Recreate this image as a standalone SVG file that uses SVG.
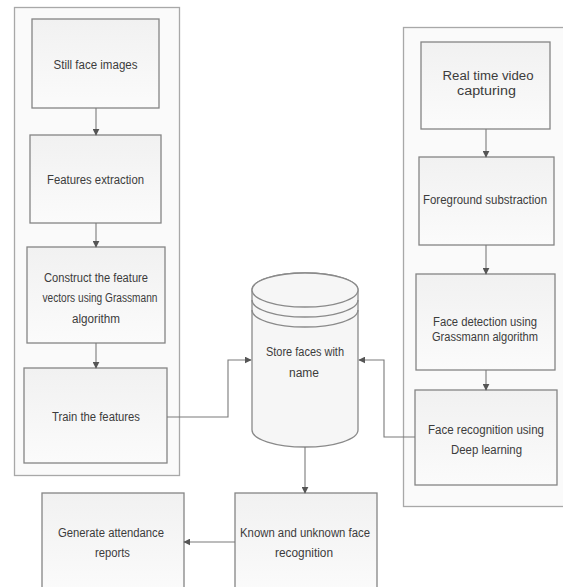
<svg xmlns="http://www.w3.org/2000/svg" width="563" height="587" viewBox="0 0 563 587">
<style>
.cont{fill:#fafafa;stroke:#a8a8a8;stroke-width:1.3}
.box{fill:url(#g);stroke:#858585;stroke-width:1.3}
.t{font-family:"Liberation Sans",Arial,sans-serif;font-size:12px;fill:#3c3c3c;text-anchor:middle}
.c{fill:none;stroke:#7a7a7a;stroke-width:1.1}
.cyl{fill:#f6f6f6;stroke:#8a8a8a;stroke-width:1.3}
.arc{fill:none;stroke:#8a8a8a;stroke-width:1.3}
</style>
<defs>
<linearGradient id="g" x1="0" y1="0" x2="0" y2="1">
<stop offset="0" stop-color="#f1f1f1"/>
<stop offset="1" stop-color="#fbfbfb"/>
</linearGradient>
<marker id="a" viewBox="0 0 10 10" refX="9" refY="5" markerWidth="7" markerHeight="7" orient="auto" markerUnits="userSpaceOnUse">
<path d="M0,0 L10,5 L0,10 z" fill="#555"/>
</marker>
</defs>
<rect width="563" height="587" fill="#fff"/>
<g id="left-container"><rect class="cont" x="14.5" y="7.5" width="165" height="468"/></g>
<g id="right-container"><rect class="cont" x="403.5" y="27.5" width="170" height="479"/></g>

<g id="still-face-images"><rect class="box" x="32" y="19" width="127" height="89"/>
<text class="t" x="95.5" y="69" textLength="84" lengthAdjust="spacingAndGlyphs">Still face images</text></g>
<g id="features-extraction"><rect class="box" x="30" y="135" width="131" height="88"/>
<text class="t" x="95.5" y="184" textLength="97" lengthAdjust="spacingAndGlyphs">Features extraction</text></g>
<g id="construct-vectors"><rect class="box" x="27" y="247" width="138" height="96"/>
<text class="t" x="96" y="282" textLength="104" lengthAdjust="spacingAndGlyphs">Construct the feature</text>
<text class="t" x="100" y="302" textLength="115" lengthAdjust="spacingAndGlyphs">vectors using Grassmann</text>
<text class="t" x="96" y="323" textLength="48" lengthAdjust="spacingAndGlyphs">algorithm</text></g>
<g id="train-features"><rect class="box" x="24" y="368" width="143" height="95"/>
<text class="t" x="96" y="421" textLength="88" lengthAdjust="spacingAndGlyphs">Train the features</text></g>

<g id="real-time-video"><rect class="box" x="421" y="42" width="129" height="87"/>
<text class="t" x="488" y="80" textLength="91" lengthAdjust="spacingAndGlyphs">Real time video</text>
<text class="t" x="486.5" y="95" textLength="59" lengthAdjust="spacingAndGlyphs">capturing</text></g>
<g id="foreground-substraction"><rect class="box" x="419" y="157" width="135" height="88"/>
<text class="t" x="485" y="204" textLength="124" lengthAdjust="spacingAndGlyphs">Foreground substraction</text></g>
<g id="face-detection"><rect class="box" x="416" y="274" width="139" height="96"/>
<text class="t" x="485" y="326" textLength="104" lengthAdjust="spacingAndGlyphs">Face detection using</text>
<text class="t" x="485" y="341" textLength="106" lengthAdjust="spacingAndGlyphs">Grassmann algorithm</text></g>
<g id="face-recognition"><rect class="box" x="415" y="390" width="142" height="95"/>
<text class="t" x="486" y="434" textLength="116" lengthAdjust="spacingAndGlyphs">Face recognition using</text>
<text class="t" x="486.5" y="454" textLength="71" lengthAdjust="spacingAndGlyphs">Deep learning</text></g>

<g id="store-faces">
<path class="cyl" d="M252,290 L252,430 A53,17 0 0 0 358,430 L358,290 A53,17 0 0 0 252,290 Z"/>
<ellipse class="cyl" cx="305" cy="290" rx="53" ry="17"/>
<path class="arc" d="M252,300 A53,17 0 0 0 358,300"/>
<path class="arc" d="M252,310 A53,17 0 0 0 358,310"/>
<text class="t" x="305" y="356" textLength="78" lengthAdjust="spacingAndGlyphs">Store faces with</text>
<text class="t" x="304" y="377" textLength="30" lengthAdjust="spacingAndGlyphs">name</text></g>

<g id="known-unknown"><rect class="box" x="235" y="493" width="142" height="100"/>
<text class="t" x="305" y="537" textLength="130" lengthAdjust="spacingAndGlyphs">Known and unknown face</text>
<text class="t" x="304" y="557" textLength="58" lengthAdjust="spacingAndGlyphs">recognition</text></g>
<g id="generate-reports"><rect class="box" x="42" y="493" width="142" height="100"/>
<text class="t" x="111" y="537" textLength="106" lengthAdjust="spacingAndGlyphs">Generate attendance</text>
<text class="t" x="112.5" y="557" textLength="35" lengthAdjust="spacingAndGlyphs">reports</text></g>

<g id="connectors">
<path class="c" d="M96,108 L96,135" marker-end="url(#a)"/>
<path class="c" d="M96,223 L96,247" marker-end="url(#a)"/>
<path class="c" d="M96,343 L96,368" marker-end="url(#a)"/>
<path class="c" d="M486,129 L486,157" marker-end="url(#a)"/>
<path class="c" d="M486,245 L486,274" marker-end="url(#a)"/>
<path class="c" d="M486,370 L486,390" marker-end="url(#a)"/>
<path class="c" d="M167,417 L228,417 L228,360 L251,360" marker-end="url(#a)"/>
<path class="c" d="M415,437 L384,437 L384,360 L359,360" marker-end="url(#a)"/>
<path class="c" d="M305,447 L305,493" marker-end="url(#a)"/>
<path class="c" d="M235,542 L184,542" marker-end="url(#a)"/>
</g>
</svg>
